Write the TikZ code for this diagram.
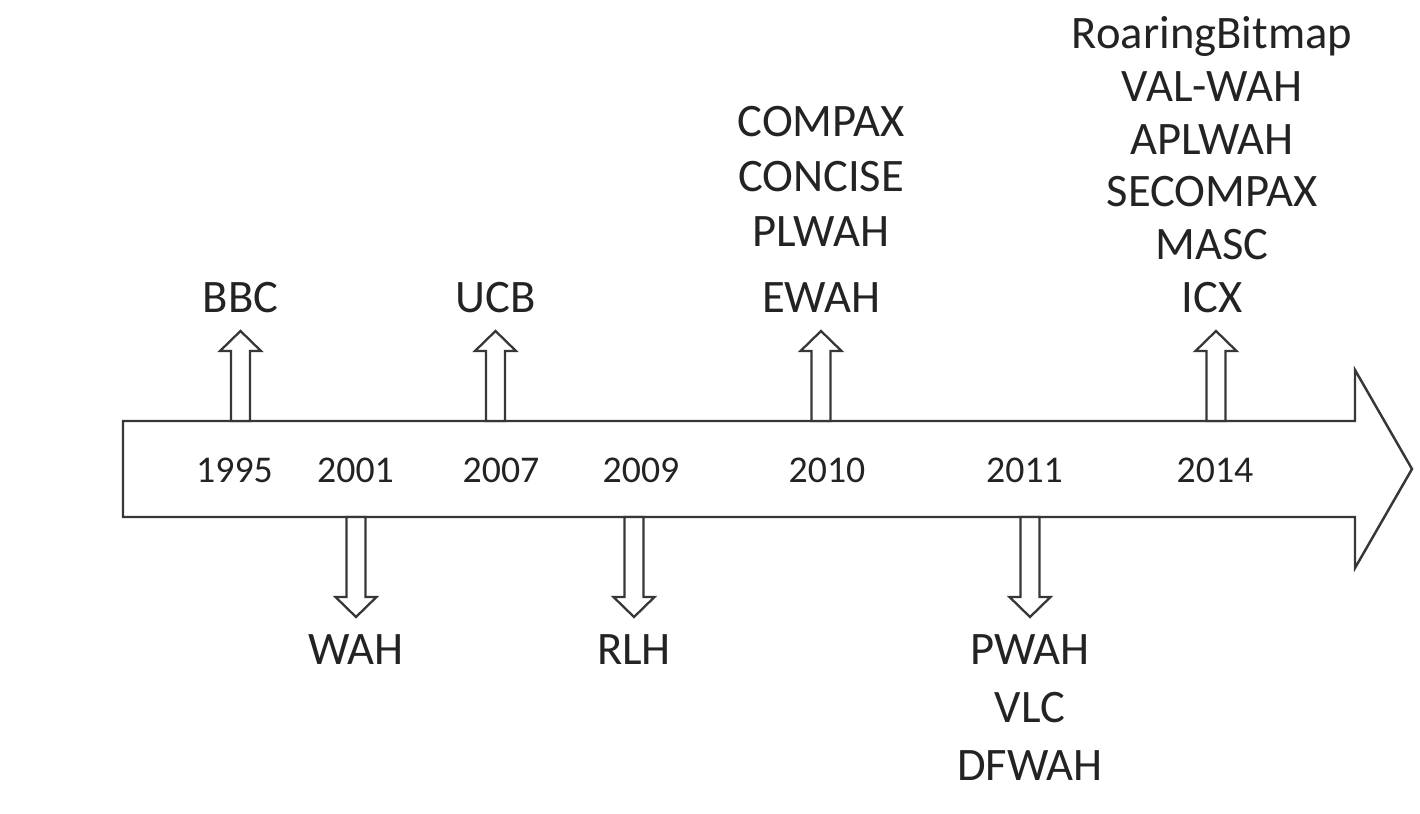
\documentclass[tikz,border=0pt]{standalone}
\usepackage{fontspec}
\setmainfont{Carlito}
\usepackage{tikz}
\usetikzlibrary{positioning, calc}
\definecolor{linegray}{RGB}{55,55,55}
\definecolor{textgray}{RGB}{35,35,35}
\tikzset{
  axisline/.style={draw=linegray, fill=white, line width=1.4pt, line join=miter},
  hollow/.style={draw=linegray, fill=white, line width=1.3pt, line join=miter,
    to path={
      ($(\tikztotarget)!0.4cm!(\tikztostart)$) coordinate (hb)
      ($(\tikztostart)!0.19cm!90:(hb)$) -- ($(hb)!0.19cm!-90:(\tikztostart)$)
      -- ($(hb)!0.41cm!-90:(\tikztostart)$) -- (\tikztotarget)
      -- ($(hb)!0.41cm!90:(\tikztostart)$) -- ($(hb)!0.19cm!90:(\tikztostart)$)
      -- ($(\tikztostart)!0.19cm!-90:(hb)$) -- cycle}},
  algo/.style={inner sep=0pt, align=center, text=textgray,
    font=\fontsize{26.5pt}{31.5pt}\selectfont},
  year/.style={inner sep=0pt, text=textgray, font=\fontsize{21.5pt}{25pt}\selectfont}
}

\begin{document}
\begin{tikzpicture}
  \useasboundingbox (0,-6.9) rectangle (28.4,9.38);

  % Time axis
  \draw[axisline] (2.46,0.96) coordinate (axtop) -- (27.10,0.96) -- (27.10,1.98)
    -- (28.24,0) -- (27.10,-1.98) -- (27.10,-0.96) -- (2.46,-0.96) coordinate (axbot) -- cycle;

  % Years
  \node[year] (y1995) at (4.69,-0.02) {1995};
  \node[year] (y2001) at (7.11,-0.02) {2001};
  \node[year] (y2007) at (10.02,-0.02) {2007};
  \node[year] (y2009) at (12.82,-0.02) {2009};
  \node[year] (y2010) at (16.54,-0.02) {2010};
  \node[year] (y2011) at (20.49,-0.02) {2011};
  \node[year] (y2014) at (24.30,-0.02) {2014};

  % Arrow tips
  \coordinate (t95) at (4.81,2.76);
  \coordinate (t01) at (7.12,-2.96);
  \coordinate (t07) at (9.91,2.76);
  \coordinate (t09) at (12.68,-2.96);
  \coordinate (t10) at (16.42,2.76);
  \coordinate (t11) at (20.60,-2.96);
  \coordinate (t14) at (24.32,2.76);

  % Hollow arrows
  \draw[hollow] (t95 |- axtop) to (t95);
  \draw[hollow] (t01 |- axbot) to (t01);
  \draw[hollow] (t07 |- axtop) to (t07);
  \draw[hollow] (t09 |- axbot) to (t09);
  \draw[hollow] (t10 |- axtop) to (t10);
  \draw[hollow] (t11 |- axbot) to (t11);
  \draw[hollow] (t14 |- axtop) to (t14);

  % Bitmap schemes above the axis
  \node[algo, above=0.36cm of t95] (bbc) {BBC};
  \node[algo, above=0.36cm of t07] (ucb) {UCB};
  \node[algo, above=0.36cm of t10] (ewah) {COMPAX\\CONCISE\\PLWAH\\[6pt]EWAH};
  \node[algo, above=0.36cm of t14, xshift=-0.08cm,
    font=\fontsize{26.5pt}{30pt}\selectfont] (icx) {RoaringBitmap\\VAL-WAH\\APLWAH\\SECOMPAX\\MASC\\ICX};

  % Bitmap schemes below the axis
  \node[algo, below=0.34cm of t01] (wah) {WAH};
  \node[algo, below=0.34cm of t09] (rlh) {RLH};
  \node[algo, below=0.34cm of t11, font=\fontsize{26.5pt}{33pt}\selectfont] (pwah) {PWAH\\VLC\\DFWAH};
\end{tikzpicture}
\end{document}
